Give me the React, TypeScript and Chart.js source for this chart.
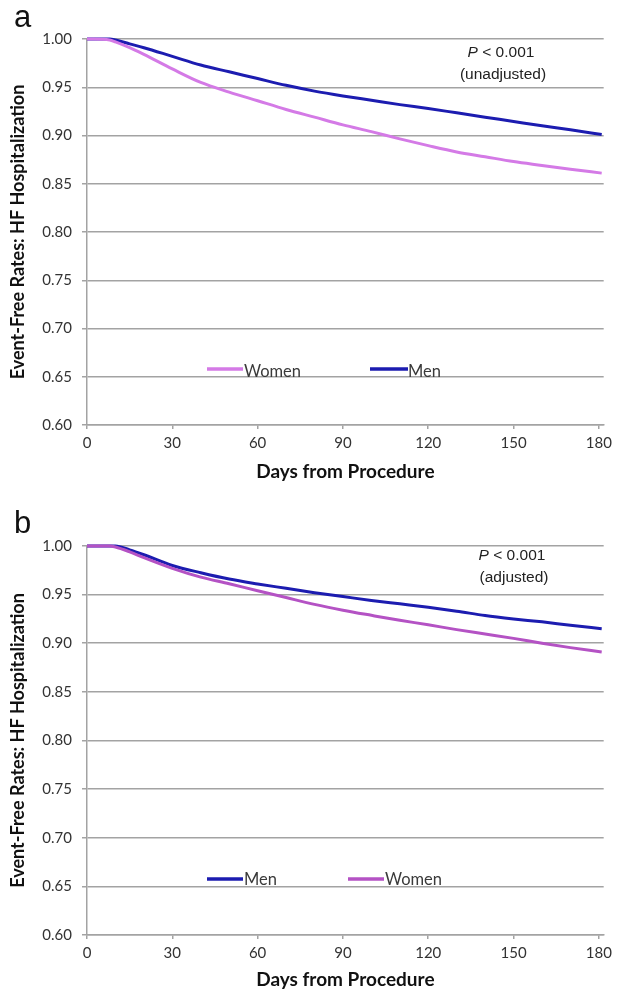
import React, { useEffect, useRef } from "react";
import { Chart, registerables } from "chart.js";

Chart.register(...registerables);

// ---- data ----
const DAYS = [0, 8, 10, 15, 20, 30, 40, 50, 60, 70, 80, 90, 100, 110, 120, 130, 140, 150, 160, 170, 181];
const MEN_A = [1.0, 1.0, 0.999, 0.995, 0.991, 0.982, 0.973, 0.966, 0.959, 0.952, 0.946, 0.941, 0.9365, 0.932, 0.928, 0.9235, 0.919, 0.9145, 0.91, 0.906, 0.901];
const WOMEN_A = [1.0, 0.999, 0.997, 0.991, 0.984, 0.969, 0.955, 0.945, 0.936, 0.927, 0.919, 0.911, 0.904, 0.8965, 0.8895, 0.883, 0.878, 0.873, 0.869, 0.865, 0.861];
const MEN_B = [1.0, 1.0, 1.0, 0.996, 0.991, 0.98, 0.9725, 0.966, 0.961, 0.9565, 0.952, 0.948, 0.944, 0.9405, 0.937, 0.933, 0.9285, 0.925, 0.922, 0.9185, 0.915];
const WOMEN_B = [1.0, 1.0, 0.999, 0.994, 0.988, 0.977, 0.968, 0.9612, 0.954, 0.947, 0.94, 0.934, 0.9287, 0.9236, 0.919, 0.914, 0.9095, 0.905, 0.9, 0.8955, 0.891];
const X_TICKS = [0, 30, 60, 90, 120, 150, 180];
const Y_TICKS = [0.6, 0.65, 0.7, 0.75, 0.8, 0.85, 0.9, 0.95, 1.0];
const Y_TITLE = "Event-Free Rates: HF Hospitalization";
const X_TITLE = "Days from Procedure";

const MEN_COLOR = "#1c1cb0";
const WOMEN_A_COLOR = "#d47ae6";
const WOMEN_B_COLOR = "#b452c4";
const GRID = "#a3a3a3";
const TICK_COLOR = "#333333";

type LegendItem = { label: string; color: string; x1: number; x2: number; y: number; tx: number; ty: number };
type PanelCfg = {
  letter: string;
  letterY: number;
  pLine2: string;
  pX: number;
  pY1: number;
  pY2: number;
  legend: LegendItem[];
};

function annotPlugin(cfg: PanelCfg) {
  return {
    id: "annot",
    afterDraw(chart: any) {
      const ctx = chart.ctx as CanvasRenderingContext2D;
      ctx.save();
      // panel letter
      ctx.fillStyle = "#111";
      ctx.textBaseline = "alphabetic";
      ctx.textAlign = "left";
      ctx.font = '31px "Liberation Sans"';
      ctx.fillText(cfg.letter, 14, cfg.letterY);
      // P value
      ctx.fillStyle = "#222";
      const fs = 15.5;
      ctx.font = `italic ${fs}px "Liberation Sans"`;
      const wP = ctx.measureText("P").width;
      ctx.font = `${fs}px "Liberation Sans"`;
      const rest = " < 0.001";
      const wR = ctx.measureText(rest).width;
      const start = cfg.pX - (wP + wR) / 2;
      ctx.font = `italic ${fs}px "Liberation Sans"`;
      ctx.fillText("P", start, cfg.pY1);
      ctx.font = `${fs}px "Liberation Sans"`;
      ctx.fillText(rest, start + wP, cfg.pY1);
      ctx.textAlign = "center";
      ctx.fillText(cfg.pLine2, cfg.pX + 2, cfg.pY2);
      // legend
      ctx.textAlign = "left";
      ctx.font = '16.5px "Lato"';
      for (const it of cfg.legend) {
        ctx.strokeStyle = it.color;
        ctx.lineWidth = 3.5;
        ctx.beginPath();
        ctx.moveTo(it.x1, it.y);
        ctx.lineTo(it.x2, it.y);
        ctx.stroke();
        ctx.fillStyle = "#3a3a3a";
        ctx.fillText(it.label, it.tx, it.ty);
      }
      ctx.restore();
    },
  };
}

function makeChart(
  canvas: HTMLCanvasElement,
  series: { label: string; data: number[]; color: string }[],
  topPad: number,
  xHeight: number,
  titlePadBottom: number,
  cfg: PanelCfg
) {
  return new Chart(canvas, {
    type: "line",
    data: {
      datasets: series.map((s) => ({
        label: s.label,
        data: DAYS.map((d, i) => ({ x: d, y: s.data[i] })),
        borderColor: s.color,
        backgroundColor: s.color,
        borderWidth: 3,
        pointRadius: 0,
        cubicInterpolationMode: "monotone" as const,
        clip: 6,
      })),
    },
    options: {
      responsive: false,
      animation: false,
      layout: { padding: { top: topPad, right: 10, left: 0, bottom: 0 } },
      plugins: { legend: { display: false }, tooltip: { enabled: false } },
      scales: {
        x: {
          type: "linear",
          min: 0,
          max: 181.7,
          afterBuildTicks: (s: any) => {
            s.ticks = X_TICKS.map((v) => ({ value: v }));
          },
          ticks: {
            font: { family: "Lato", size: 15 },
            color: TICK_COLOR,
            padding: 5,
            maxRotation: 0,
            autoSkip: false,
            callback: (v: any) => String(v),
          },
          grid: { drawOnChartArea: false, tickLength: 4, color: GRID, lineWidth: 1.5 },
          border: { color: GRID, width: 1.5 },
          title: {
            display: true,
            text: X_TITLE,
            font: { family: "Lato", size: 19, weight: "bold" },
            color: "#111",
            padding: { top: 0, bottom: titlePadBottom },
          },
          afterFit: (s: any) => {
            s.height = xHeight;
          },
        },
        y: {
          type: "linear",
          min: 0.6,
          max: 1.0,
          afterBuildTicks: (s: any) => {
            s.ticks = Y_TICKS.map((v) => ({ value: v }));
          },
          ticks: {
            font: { family: "Lato", size: 15 },
            color: TICK_COLOR,
            padding: 10,
            callback: (v: any) => Number(v).toFixed(2),
          },
          grid: { color: GRID, lineWidth: 1.5, tickLength: 5 },
          border: { color: GRID, width: 1.5 },
          title: {
            display: true,
            text: Y_TITLE,
            font: { family: "Lato", size: 18, weight: "bold" },
            color: "#111",
            padding: { top: 7, bottom: 0 },
          },
          afterFit: (s: any) => {
            s.width = 87;
          },
        },
      },
    },
    plugins: [annotPlugin(cfg)],
  } as any);
}

export default function App() {
  const refA = useRef<HTMLCanvasElement>(null);
  const refB = useRef<HTMLCanvasElement>(null);

  useEffect(() => {
    const a = makeChart(
      refA.current!,
      [
        { label: "Women", data: WOMEN_A, color: WOMEN_A_COLOR },
        { label: "Men", data: MEN_A, color: MEN_COLOR },
      ],
      39,
      65,
      7,
      {
        letter: "a",
        letterY: 27,
        pLine2: "(unadjusted)",
        pX: 501,
        pY1: 57,
        pY2: 79,
        legend: [
          { label: "Women", color: WOMEN_A_COLOR, x1: 207, x2: 243, y: 369, tx: 244, ty: 377 },
          { label: "Men", color: MEN_COLOR, x1: 370, x2: 408, y: 369, tx: 408, ty: 377 },
        ],
      }
    );
    const b = makeChart(
      refB.current!,
      [
        { label: "Women", data: WOMEN_B, color: WOMEN_B_COLOR },
        { label: "Men", data: MEN_B, color: MEN_COLOR },
      ],
      56,
      61,
      5,
      {
        letter: "b",
        letterY: 43,
        pLine2: "(adjusted)",
        pX: 512,
        pY1: 70,
        pY2: 92,
        legend: [
          { label: "Men", color: MEN_COLOR, x1: 207, x2: 243, y: 389, tx: 244, ty: 395 },
          { label: "Women", color: WOMEN_B_COLOR, x1: 348, x2: 384, y: 389, tx: 385, ty: 395 },
        ],
      }
    );
    return () => {
      a.destroy();
      b.destroy();
    };
  }, []);

  return (
    <div style={{ position: "fixed", left: 0, top: 0, width: 617, height: 996, background: "#fff" }}>
      <canvas ref={refA} width={617} height={490} style={{ position: "absolute", left: 0, top: 0, display: "block" }} />
      <canvas ref={refB} width={617} height={506} style={{ position: "absolute", left: 0, top: 490, display: "block" }} />
    </div>
  );
}
